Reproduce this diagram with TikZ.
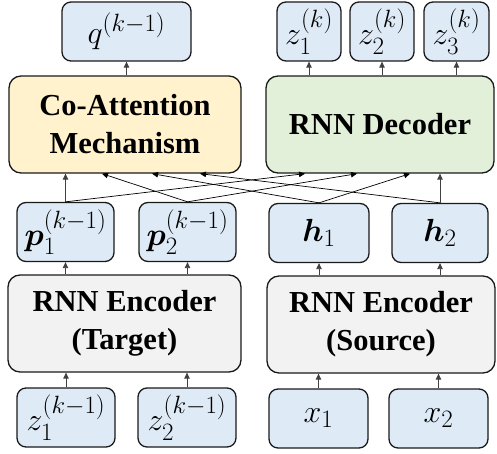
\RequirePackage{fix-cm}
\documentclass[tikz,border=0pt]{standalone}
\usepackage{amsmath,bm}
\usepackage{fontspec}
\setmainfont{Liberation Serif}
\DeclareMathSizes{32}{32}{25}{19}
\usetikzlibrary{arrows.meta}
\definecolor{bluefill}{HTML}{DEEBF7}
\definecolor{yellowfill}{HTML}{FFF2CC}
\definecolor{greenfill}{HTML}{E2F0D9}
\definecolor{grayfill}{HTML}{F2F2F2}
\definecolor{edge}{HTML}{1A1A1A}
\tikzset{
  box/.style={draw=edge, line width=1.3pt, rounded corners=9pt, inner sep=0pt, align=center},
  small/.style={box, fill=bluefill, minimum height=59pt, font=\fontsize{32}{36}\selectfont},
  big/.style={box, rounded corners=12pt, minimum height=97pt, font=\fontsize{30.5}{38}\selectfont\bfseries},
  arr/.style={line width=0.7pt, -{Triangle[length=6pt,width=5.5pt]}},
  varr/.style={arr, line width=0.9pt, draw=black!75}
}
\begin{document}
\begin{tikzpicture}[x=1pt,y=1pt]
\useasboundingbox (0,0) rectangle (497,-454);
% top row
\node[small, minimum width=129pt] (q) at (126.5,-31.5) {$q^{(k-1)}$};
\node[small, minimum width=64pt] (zk1) at (309,-31.5) {$z_1^{(k)}$};
\node[small, minimum width=64pt] (zk2) at (382,-31.5) {$z_2^{(k)}$};
\node[small, minimum width=65pt] (zk3) at (456.5,-31.5) {$z_3^{(k)}$};
% middle
\node[big, fill=yellowfill, minimum width=232pt] (coa) at (125,-124.5) {Co-Attention\\Mechanism};
\node[big, fill=greenfill, minimum width=228pt] (dec) at (380,-124.5) {RNN Decoder};
% p / h row
\node[small, minimum width=97pt] (p1) at (65.5,-232) {$\bm{p}_1^{(k-1)}$};
\node[small, minimum width=97pt] (p2) at (187.5,-232) {$\bm{p}_2^{(k-1)}$};
\node[small, minimum width=100pt] (h1) at (319,-233) {$\bm{h}_1$};
\node[small, minimum width=96pt] (h2) at (440,-233) {$\bm{h}_2$};
% encoders
\node[big, fill=grayfill, minimum width=233pt] (enct) at (124.5,-323.5) {RNN Encoder\\(Target)};
\node[big, fill=grayfill, minimum width=228pt] (encs) at (381,-324.5) {RNN Encoder\\(Source)};
% bottom
\node[small, minimum width=98pt] (zp1) at (66,-417.5) {$z_1^{(k-1)}$};
\node[small, minimum width=98pt] (zp2) at (187,-417.5) {$z_2^{(k-1)}$};
\node[small, minimum width=99pt] (x1) at (318.5,-418.5) {$x_1$};
\node[small, minimum width=99pt] (x2) at (438.5,-418.5) {$x_2$};
% arrows: bottom -> encoders
\draw[varr] (zp1.north) -- (zp1.north |- enct.south);
\draw[varr] (zp2.north) -- (zp2.north |- enct.south);
\draw[varr] (x1.north) -- (x1.north |- encs.south);
\draw[varr] (x2.north) -- (x2.north |- encs.south);
% encoders -> p/h
\draw[varr] (p1.south |- enct.north) -- (p1.south);
\draw[varr] (p2.south |- enct.north) -- (p2.south);
\draw[varr] (h1.south |- encs.north) -- (h1.south);
\draw[varr] (h2.south |- encs.north) -- (h2.south);
% p/h -> coa, dec
\draw[varr] (p1.north) -- (p1.north |- coa.south);
\draw[arr] (p2.north) -- (102,0 |- coa.south);
\draw[arr] (h1.north) -- (152,0 |- coa.south);
\draw[arr] (h2.north) -- (200,0 |- coa.south);
\draw[arr] (p1.north) -- (305,0 |- dec.south);
\draw[arr] (p2.north) -- (357,0 |- dec.south);
\draw[arr] (h1.north) -- (410,0 |- dec.south);
\draw[varr] (h2.north) -- (h2.north |- dec.south);
% top arrows
\draw[varr] (q.south |- coa.north) -- (q.south);
\draw[varr] (zk1.south |- dec.north) -- (zk1.south);
\draw[varr] (zk2.south |- dec.north) -- (zk2.south);
\draw[varr] (zk3.south |- dec.north) -- (zk3.south);
\end{tikzpicture}
\end{document}
